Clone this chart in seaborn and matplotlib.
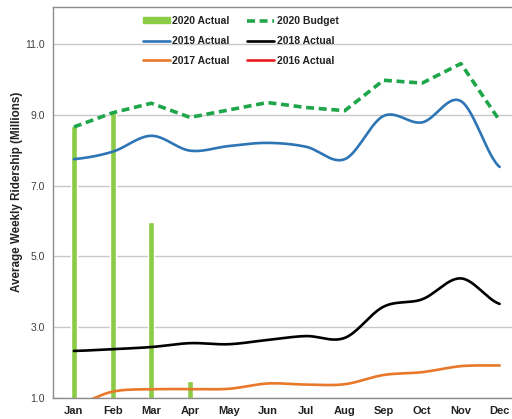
import numpy as np
import pandas as pd
import matplotlib
matplotlib.use("Agg")
import matplotlib.pyplot as plt
import seaborn as sns
from matplotlib.lines import Line2D
from matplotlib.patches import Patch

months = ["Jan", "Feb", "Mar", "Apr", "May", "Jun", "Jul", "Aug", "Sep", "Oct", "Nov", "Dec"]
actual_2020 = [8.68, 9.12, 5.96, 1.48]
budget_2020 = [8.66, 9.06, 9.33, 8.93, 9.14, 9.35, 9.21, 9.12, 9.98, 9.90, 10.45, 8.84]
actual_2019 = [7.75, 7.96, 8.41, 7.99, 8.12, 8.21, 8.10, 7.75, 8.97, 8.79, 9.39, 7.53]
actual_2018 = [2.33, 2.38, 2.44, 2.55, 2.52, 2.64, 2.75, 2.70, 3.58, 3.79, 4.38, 3.66]
actual_2017 = [0.80, 1.18, 1.25, 1.25, 1.26, 1.41, 1.38, 1.39, 1.65, 1.73, 1.90, 1.92]
y_ticks = [1.0, 3.0, 5.0, 7.0, 9.0, 11.0]


def smooth(vals, n=30):
    p = np.asarray(vals, float)
    x = np.arange(len(p), dtype=float)
    xs, ys = [], []
    for i in range(len(p) - 1):
        p0 = p[i - 1] if i > 0 else p[i]
        p3 = p[i + 2] if i + 2 < len(p) else p[i + 1]
        p1, p2 = p[i], p[i + 1]
        c1 = p1 + (p2 - p0) / 6.0
        c2 = p2 - (p3 - p1) / 6.0
        t = np.linspace(0, 1, n, endpoint=False)
        yy = (1 - t) ** 3 * p1 + 3 * (1 - t) ** 2 * t * c1 + 3 * (1 - t) * t ** 2 * c2 + t ** 3 * p2
        xs.append(x[i] + t)
        ys.append(yy)
    xs.append([x[-1]])
    ys.append([p[-1]])
    return np.concatenate(xs), np.concatenate(ys)


sns.set_theme(style="white")
plt.rcParams['font.family'] = ['Liberation Sans', 'DejaVu Sans']

fig = plt.figure(figsize=(5.12, 4.19), dpi=100)
ax = fig.add_axes([53 / 512, 1 - 398 / 419, 1 - 53 / 512, (398 - 7) / 419])

c_bar = "#8CCB45"
c_bud = "#1FA64A"
c_19 = "#2E75B6"
c_18 = "#000000"
c_17 = "#E8782A"
c_16 = "#E81E1E"

# bars
df_bar = pd.DataFrame({"x": np.arange(len(actual_2020)), "y": actual_2020})
sns.barplot(data=df_bar, x="x", y="y", native_scale=True, width=0.155,
            color=c_bar, saturation=1, ax=ax, zorder=2)

# smooth lines
for vals, col in [(actual_2017, c_17), (actual_2018, c_18), (actual_2019, c_19)]:
    xs, ys = smooth(vals)
    sns.lineplot(x=xs, y=ys, color=col, lw=1.9, ax=ax, zorder=3, sort=False)

# budget dashed
sns.lineplot(x=np.arange(12), y=budget_2020, color=c_bud, lw=2.6, ax=ax, zorder=4,
             dashes=False, sort=False)
ax.lines[-1].set_dashes((2.2, 1.3))

ax.set_xlim(-0.54, 11.32)
ax.set_ylim(1.0, 12.05)
ax.set_yticks(y_ticks)
ax.set_yticklabels([f"{v:.1f}" for v in y_ticks], fontsize=7.5, color="#404040")
ax.set_xticks(range(12))
ax.set_xticklabels(months, fontsize=8, fontweight="bold", color="#222222")
ax.set_xticks(np.arange(-0.5, 11.5, 1), minor=True)
ax.tick_params(axis="x", which="major", length=0, pad=6)
ax.tick_params(axis="x", which="minor", length=3, color="#909090", direction="out")
ax.tick_params(axis="y", length=3, color="#909090", pad=3)
ax.set_xlabel("")
ax.set_ylabel("Average Weekly Ridership (Millions)", fontsize=8.4, fontweight="bold",
              color="#222222")
ax.yaxis.set_label_coords((17 - 53) / 459, (398 - 192) / 391)
ax.yaxis.label.set_va("center")
ax.yaxis.grid(True, color="#C8C8C8", lw=1)
ax.set_axisbelow(True)
for s in ["left", "top", "bottom"]:
    ax.spines[s].set_color("#8C8C8C")
    ax.spines[s].set_linewidth(1)
ax.spines["right"].set_visible(False)

handles = [
    Patch(color=c_bar),
    Line2D([], [], color=c_19, lw=1.9),
    Line2D([], [], color=c_17, lw=1.9),
    Line2D([], [], color=c_bud, lw=2.6, dashes=(2.2, 1.3)),
    Line2D([], [], color=c_18, lw=1.9),
    Line2D([], [], color=c_16, lw=1.9),
]
labels = ["2020 Actual", "2019 Actual", "2017 Actual", "2020 Budget", "2018 Actual", "2016 Actual"]
leg = ax.legend(handles, labels, ncol=2, loc="upper left", frameon=False,
                bbox_to_anchor=(143 / 512, 1 - 16 / 419), bbox_transform=fig.transFigure,
                borderpad=0, borderaxespad=0, handlelength=2.6, handleheight=0.5,
                handletextpad=0.2, columnspacing=1.7, labelspacing=0.95,
                prop={"size": 7.5, "weight": "bold"})
for t in leg.get_texts():
    t.set_color("#222222")

fig.savefig("out.png", dpi=100)
